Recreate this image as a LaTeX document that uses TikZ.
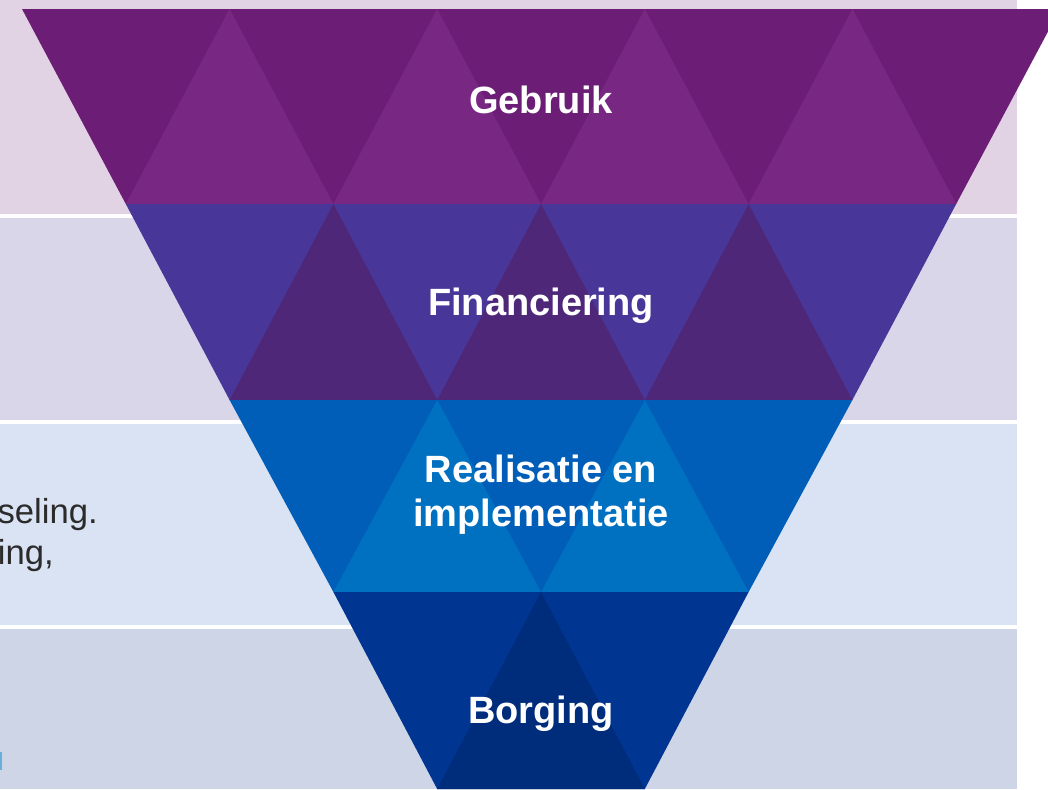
\documentclass[tikz,border=0pt]{standalone}
\usepackage{fontspec}
\setmainfont{Liberation Sans}
\definecolor{bandA}{HTML}{E2D3E4}
\definecolor{bandB}{HTML}{DAD6EA}
\definecolor{bandC}{HTML}{DAE3F3}
\definecolor{bandD}{HTML}{CDD5E7}
\definecolor{gebrD}{HTML}{6C1E76}
\definecolor{gebrU}{HTML}{782883}
\definecolor{finD}{HTML}{483799}
\definecolor{finU}{HTML}{4F2779}
\definecolor{realD}{HTML}{005EB8}
\definecolor{realU}{HTML}{0070C0}
\definecolor{borgD}{HTML}{003591}
\definecolor{borgU}{HTML}{002C7C}
\definecolor{sidegray}{HTML}{2B2B2B}
\definecolor{linkblue}{HTML}{6AAEDC}
\tikzset{
  lbl/.style={text=white, font=\fontsize{28.5}{33}\selectfont\bfseries, align=center, inner sep=0pt},
  side/.style={text=sidegray, font=\fontsize{26}{31}\selectfont, inner sep=0pt, anchor=base east}
}
\begin{document}
\begin{tikzpicture}[x=0.75pt,y=-0.75pt]
   \useasboundingbox (0,0) rectangle (1048,789);
   \clip (0,0) rectangle (1048,789);
   % bands behind the funnel
   \fill[bandA] (0,0) rectangle (1017,214);
   \fill[bandB] (0,218) rectangle (1017,420);
   \fill[bandC] (0,424) rectangle (1017,625);
   \fill[bandD] (0,629) rectangle (1017,789);
   \node[side] (seling) at (98,523) {seling.};
   \node[side] (ing) at (54,564) {ing,};
   \fill[linkblue] (0,752) rectangle (2,770);
   % funnel, one row at a time
   \foreach \k/\ytop/\ybot/\dcol/\ucol in {0/9/204/gebrD/gebrU,1/204/400/finD/finU,2/400/592/realD/realU,3/592/789/borgD/borgU}{
     \fill[\dcol] ({541-(5-\k)*103.8},\ytop) -- ({541+(5-\k)*103.8},\ytop) -- ({541+(4-\k)*103.8},\ybot) -- ({541-(4-\k)*103.8},\ybot) -- cycle;
     \pgfmathtruncatemacro\m{3-\k}
     \foreach \j in {0,...,\m}
       \fill[\ucol] ({541+(2*\j-4+\k)*103.8},\ybot) -- ({541+(2*\j-3+\k)*103.8},\ytop) -- ({541+(2*\j-2+\k)*103.8},\ybot) -- cycle;
   }
   \node[lbl, anchor=base] (gebruik) at (541,113) {Gebruik};
   \node[lbl, anchor=base] (financiering) at (541,315) {Financiering};
   \node[lbl] (realisatie) at (541,495) {Realisatie en\\implementatie};
   \node[lbl, anchor=base] (borging) at (541,723) {Borging};
\end{tikzpicture}
\end{document}
